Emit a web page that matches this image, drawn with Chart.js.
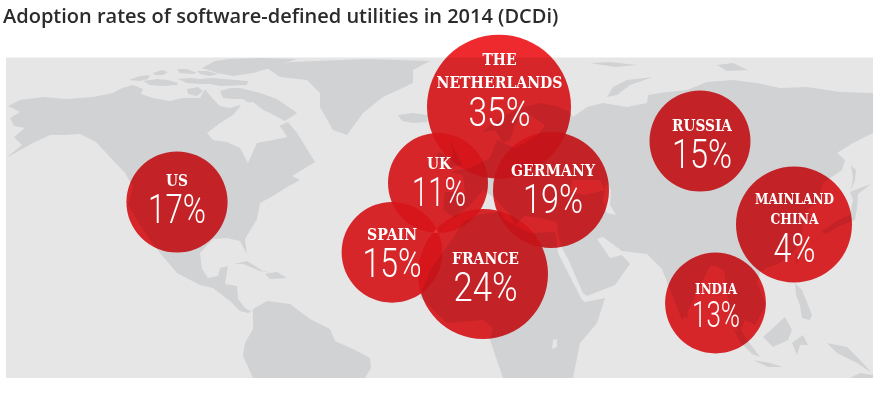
<!DOCTYPE html>
<html><head><meta charset="utf-8">
<style>html,body{margin:0;padding:0;background:#fff}canvas{display:block}</style>
<script src="https://cdn.jsdelivr.net/npm/chart.js@4"></script>
</head><body><canvas id="c" width="880" height="396"></canvas>
<script>
const titleText = "Adoption rates of software-defined utilities in 2014 (DCDi)";
const countries = ["The Netherlands","France","Germany","US","Russia","Spain","UK","India","Mainland China"];
const rates =     [35,24,19,17,15,15,11,13,4];
const mapX =      [499,483,551,177,700,392,438,715.5,794];
const mapY =      [106.7,274,190,202,141,252.3,183,303,224.5];
const bubbleR =   [72,65,58,50.6,50.5,50.4,50,50.4,58];

// label layout relative to each bubble
const nameLines = [["THE","NETHERLANDS"],["FRANCE"],["GERMANY"],["US"],["RUSSIA"],["SPAIN"],["UK"],["INDIA"],["MAINLAND","CHINA"]];
const nameDy =    [[-42,-19],[-10],[-14],[-16],[-10],[-12],[-14],[-9],[-20.5,-0.5]];
const nameW =     [[34,126],[67],[84],[22],[60],[50],[24],[42],[79,48]];
const nameSize =  [17,17,17,17,17,17,17,14.5,15];
const pctDy =     [19,27,23,21,27,25,23,24,37.5];
const pctW =      [62,64,60,58,60,59,54,48,42];
const pctSize =   [40,40,40,40,40,40,40,37,40];
const labelDx =   [0.5,2.5,2,0,2,0,1,0.5,0.5];

const panel = [[6,57.5],[873,57.5],[873,378],[6,378]];
const landShapes = [
 // North America
 [[6,158],[33,143],[50,135],[63,135],[80,134],[96,142],[110,157],[125,173],[133,187],[128,205],[140,225],[150,240],[160,253],[177,273],[200,285],[213,288],[230,301],[240,311],[248,313],[255,309],[250,311],[245,308],[238,299],[237,286],[225,284],[228,266],[220,268],[218,276],[208,278],[202,269],[200,253],[213,239],[227,238],[240,241],[247,254],[245,239],[257,219],[260,203],[273,196],[287,187],[300,180],[292,176],[315,162],[297,133],[288,122],[275,128],[262,128],[250,118],[240,105],[230,108],[220,106],[212,98],[205,89],[200,98],[183,98],[170,101],[153,98],[141,94],[143,89],[133,85],[122,88],[113,93],[93,97],[67,99],[43,97],[20,100],[8,106],[20,112],[10,118],[14,126],[25,128],[14,137],[22,145]],
 // Arctic islands
 [[129,80],[140,76],[150,75],[148,79],[140,81]],
 [[153,73],[162,70],[168,72],[163,75],[155,75]],
 [[143,81],[157,79],[168,80],[178,83],[177,85],[163,86],[150,85]],
 [[177,69],[187,69],[197,73],[192,74],[180,73]],
 [[197,71],[207,71],[218,74],[210,76],[200,74]],
 [[202,68],[215,61],[230,59],[260,58],[297,59],[277,66],[253,73],[233,76],[217,73]],
 [[178,79],[190,78],[200,79],[212,78],[248,81],[247,85],[220,86],[210,84],[200,84],[187,83]],
 [[187,89],[198,87],[203,91],[197,96],[188,94]],
 [[220,91],[230,88],[240,88],[260,93],[277,99],[297,113],[285,121],[270,113],[253,106],[243,99],[233,99],[223,98]],
 // Greenland, Iceland
 [[267,68],[290,62],[367,59],[430,61],[413,70],[413,83],[383,97],[363,113],[347,135],[333,130],[320,107],[320,93],[307,80],[280,77]],
 [[398,115],[413,113],[428,115],[427,122],[413,123],[402,121]],
 // South America
 [[253,309],[267,301],[290,304],[310,319],[330,329],[335,341],[353,349],[370,358],[371,368],[365,378],[253,378],[243,356],[245,343],[253,329]],
 // Caribbean
 [[235,264],[247,261],[263,271],[277,274],[260,271],[243,264]],
 [[265,274],[277,272],[287,278],[270,279]],
 // Eurasia
 [[482,132],[500,118],[520,108],[540,103],[556,106],[570,112],[573,117],[587,107],[603,103],[627,107],[647,103],[648,95],[667,92],[687,90],[707,82],[733,80],[757,83],[780,88],[807,87],[840,92],[873,93],[873,133],[853,143],[837,153],[845,160],[842,170],[823,183],[817,203],[807,210],[812,220],[803,223],[802,237],[793,253],[780,263],[767,268],[760,272],[757,283],[766,305],[755,325],[745,320],[741,330],[750,345],[753,352],[745,345],[735,325],[730,310],[727,290],[724,270],[715,266],[710,266],[698,290],[686,315],[682,320],[672,295],[662,269],[647,254],[622,251],[603,237],[597,239],[610,258],[622,255],[630,264],[615,285],[587,296],[583,293],[568,259],[562,248],[558,235],[557,222],[540,218],[525,216],[515,225],[508,212],[505,210],[495,198],[483,190],[478,196],[470,205],[455,218],[443,210],[445,192],[465,192],[463,175],[450,172],[470,168],[490,158],[497,140],[515,148],[538,135],[545,125],[525,112],[515,125],[510,140],[503,143],[495,130]],
 // Africa
 [[463,222],[480,214],[500,212],[505,220],[530,233],[555,232],[556,236],[558,253],[582,300],[585,302],[605,298],[597,323],[580,343],[573,378],[503,378],[490,340],[493,328],[483,320],[447,323],[420,297],[430,270],[455,235]],
 // European and Asian islands
 [[450,140],[455,150],[462,165],[447,168],[453,155]],
 [[438,152],[447,155],[444,163],[437,160]],
 [[607,97],[613,87],[627,80],[653,77],[630,85],[617,95]],
 [[590,63],[610,62],[637,65],[615,67]],
 [[717,65],[733,63],[748,70],[727,71]],
 [[685,307],[688,314],[687,319],[684,315]],
 [[821,232],[838,220],[850,215],[853,200],[850,192],[860,188],[871,184],[858,194],[857,208],[855,220],[840,226],[826,234]],
 [[851,165],[856,170],[855,180],[851,190],[853,178]],
 [[795,283],[802,290],[806,300],[812,315],[810,320],[802,318],[800,305],[796,295]],
 [[795,253],[799,255],[797,266]],
 [[763,337],[785,317],[792,330],[788,340],[773,347]],
 [[733,328],[745,337],[760,357],[752,354],[740,342]],
 [[753,360],[770,363],[783,367],[768,367]],
 [[792,343],[803,335],[808,345],[800,345],[797,355]],
 [[827,343],[847,347],[860,360],[872,373],[857,363],[837,353]],
 [[850,378],[860,373],[873,375],[873,378]]
];
const seaShapes = [
 // Hudson Bay
 [[207,133],[220,123],[233,115],[243,103],[253,102],[267,113],[283,130],[287,137],[273,140],[257,143],[248,163],[240,148],[227,142],[213,140]],
 // Black Sea, Caspian, Lake Victoria
 [[572,180],[600,180],[605,190],[585,195],[570,192]],
 [[606,183],[611,190],[610,205],[616,215],[607,213],[603,200]],
 [[553,340],[557,339],[557,347],[552,349]]
];

const landColor = "#d1d2d4", panelColor = "#e6e6e7", bubbleColor = "#ee2a2e", overlapLift = "rgb(15,15,18)";
const toPts = s => s.map(p => ({x:p[0], y:p[1]}));
const shapeSet = (s,color,order) => ({type:"line",data:toPts(s),showLine:true,fill:"shape",backgroundColor:color,borderWidth:0,pointRadius:0,tension:0,order});

const datasets = [ shapeSet(panel,panelColor,30) ];
landShapes.forEach(s => datasets.push(shapeSet(s,landColor,20)));
seaShapes.forEach(s => datasets.push(shapeSet(s,panelColor,10)));
countries.forEach((c,i) => datasets.push({type:"bubble",label:c,order:i,clip:false,
  data:[{x:mapX[i],y:mapY[i],r:bubbleR[i]}],backgroundColor:bubbleColor,borderWidth:0,hoverBorderWidth:0}));

const blendAndLabels = {
  id:"blendAndLabels",
  beforeDatasetDraw(chart,args){
    if(chart.data.datasets[args.index].type==="bubble"){chart.ctx.save();chart.ctx.globalCompositeOperation="multiply";}
  },
  afterDatasetDraw(chart,args){
    if(chart.data.datasets[args.index].type==="bubble"){chart.ctx.restore();}
  },
  afterDatasetsDraw(chart){
    const {ctx,scales:{x,y}} = chart;
    // overlaps in the reference are lighter than a double multiply
    const bubbles = chart.getSortedVisibleDatasetMetas().filter(m=>m.type==="bubble").map(m=>m.data[0]);
    const arc = b => {ctx.beginPath();ctx.arc(b.x,b.y,b.options.radius,0,Math.PI*2);};
    bubbles.forEach((a,i)=>bubbles.slice(i+1).forEach(b=>{
      if(Math.hypot(a.x-b.x,a.y-b.y) >= a.options.radius+b.options.radius) return;
      ctx.save();arc(a);ctx.clip();arc(b);
      ctx.globalCompositeOperation="lighter";ctx.fillStyle=overlapLift;ctx.fill();
      ctx.restore();
    }));
    ctx.save();
    ctx.fillStyle="#fff";ctx.textAlign="center";ctx.textBaseline="alphabetic";
    countries.forEach((c,i)=>{
      const cx=x.getPixelForValue(mapX[i])+labelDx[i], cy=y.getPixelForValue(mapY[i]);
      ctx.font=`bold ${nameSize[i]}px "DejaVu Serif"`;
      nameLines[i].forEach((t,k)=>ctx.fillText(t,cx,cy+nameDy[i][k],nameW[i][k]));
      ctx.font=`300 ${pctSize[i]}px Roboto`;
      ctx.fillText(rates[i]+"%",cx,cy+pctDy[i],pctW[i]);
    });
    ctx.restore();
  }
};

new Chart(document.getElementById("c"),{
  type:"bubble",
  data:{datasets},
  plugins:[blendAndLabels],
  options:{
    responsive:false,animation:false,
    layout:{padding:{left:3,top:0,right:0,bottom:0},autoPadding:false},
    events:[],
    plugins:{
      legend:{display:false},tooltip:{enabled:false},
      title:{display:true,text:titleText,align:"start",color:"#2b2b2d",
        font:{family:"Open Sans",size:20,weight:"600",lineHeight:1.2},padding:{top:5,bottom:4}}
    },
    scales:{
      x:{type:"linear",display:false,min:3,max:880},
      y:{type:"linear",display:false,reverse:true,min:33,max:396}
    }
  }
});
</script></body></html>
